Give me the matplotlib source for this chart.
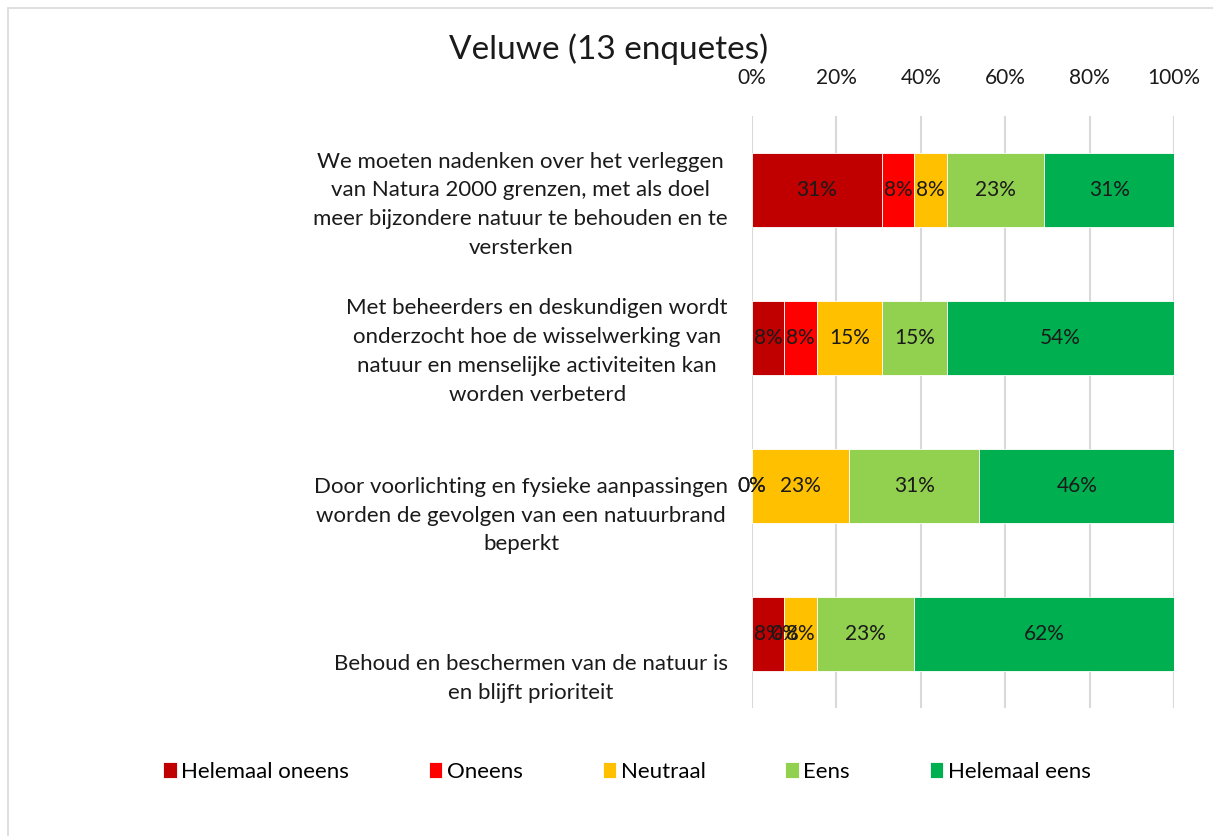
import matplotlib
matplotlib.use("Agg")
import matplotlib.pyplot as plt
import numpy as np
from matplotlib.patches import Rectangle

plt.rcParams['font.family'] = ['Lato', 'DejaVu Sans']

title = "Veluwe (13 enquetes)"
categories = [
    "We moeten nadenken over het verleggen\nvan Natura 2000 grenzen, met als doel\nmeer bijzondere natuur te behouden en te\nversterken",
    "Met beheerders en deskundigen wordt\nonderzocht hoe de wisselwerking van\nnatuur en menselijke activiteiten kan\nworden verbeterd",
    "Door voorlichting en fysieke aanpassingen\nworden de gevolgen van een natuurbrand\nbeperkt",
    "Behoud en beschermen van de natuur is\nen blijft prioriteit",
]
series_names = ["Helemaal oneens", "Oneens", "Neutraal", "Eens", "Helemaal eens"]
helemaal_oneens = [30.8, 7.7, 0.0, 7.7]
oneens = [7.7, 7.7, 0.0, 0.0]
neutraal = [7.7, 15.4, 23.1, 7.7]
eens = [23.1, 15.4, 30.8, 23.1]
helemaal_eens = [30.8, 53.8, 46.2, 61.5]
xticks = [0, 20, 40, 60, 80, 100]
xtick_labels = ["0%", "20%", "40%", "60%", "80%", "100%"]

colors = ["#C00000", "#FF0000", "#FFC000", "#92D050", "#00B050"]
label_offsets = [0.1, 1.09, 2.2, 3.3]

W, H = 1213, 836
fig = plt.figure(figsize=(W / 100, H / 100), dpi=100)
fig.patches.append(Rectangle((8 / W, -0.1), 1.2, 1 - 8 / H + 0.1, transform=fig.transFigure,
                             fill=False, edgecolor="#d9d9d9", linewidth=1.2, zorder=0))

ax = fig.add_axes([752 / W, 1 - 708 / H, (1174 - 752) / W, (708 - 116) / H])
series = [helemaal_oneens, oneens, neutraal, eens, helemaal_eens]
y = np.arange(len(categories))
left = np.zeros(len(categories))
for name, vals, c in zip(series_names, series, colors):
    vals = np.array(vals)
    ax.barh(y, vals, left=left, height=0.5, color=c, edgecolor="white", linewidth=0.6,
            label=name, zorder=3)
    for yi, l, v in zip(y, left, vals):
        ax.text(l + v / 2, yi, f"{v:.0f}%", ha="center", va="center", fontsize=15,
                color="#1a1a1a", zorder=4)
    left += vals

ax.set_xlim(0, 100)
ax.set_ylim(len(categories) - 0.5, -0.5)
ax.xaxis.tick_top()
ax.set_xticks(xticks)
ax.set_xticklabels(xtick_labels, fontsize=15, color="#1a1a1a")
ax.tick_params(axis="x", length=0, pad=20)
ax.set_yticks([])
for s in ax.spines.values():
    s.set_visible(False)
ax.grid(axis="x", color="#d9d9d9", linewidth=1.5, zorder=0)
ax.set_axisbelow(True)

for yi, lab in zip(label_offsets, categories):
    ax.text(-24 / 422, yi, lab, transform=ax.get_yaxis_transform(), ha="right", va="center",
            multialignment="center", fontsize=16, linespacing=1.55, color="#1a1a1a")

fig.text(609 / W, 1 - 49 / H, title, ha="center", va="center", fontsize=24, color="#1a1a1a")

handles, labels = ax.get_legend_handles_labels()
fig.legend(handles, labels, loc="center", bbox_to_anchor=(627 / W, 1 - 772 / H), ncol=5,
           frameon=False, fontsize=16, handlelength=0.6, handleheight=0.7, handletextpad=0.2,
           columnspacing=3.6)

fig.savefig("out.png", dpi=100)
